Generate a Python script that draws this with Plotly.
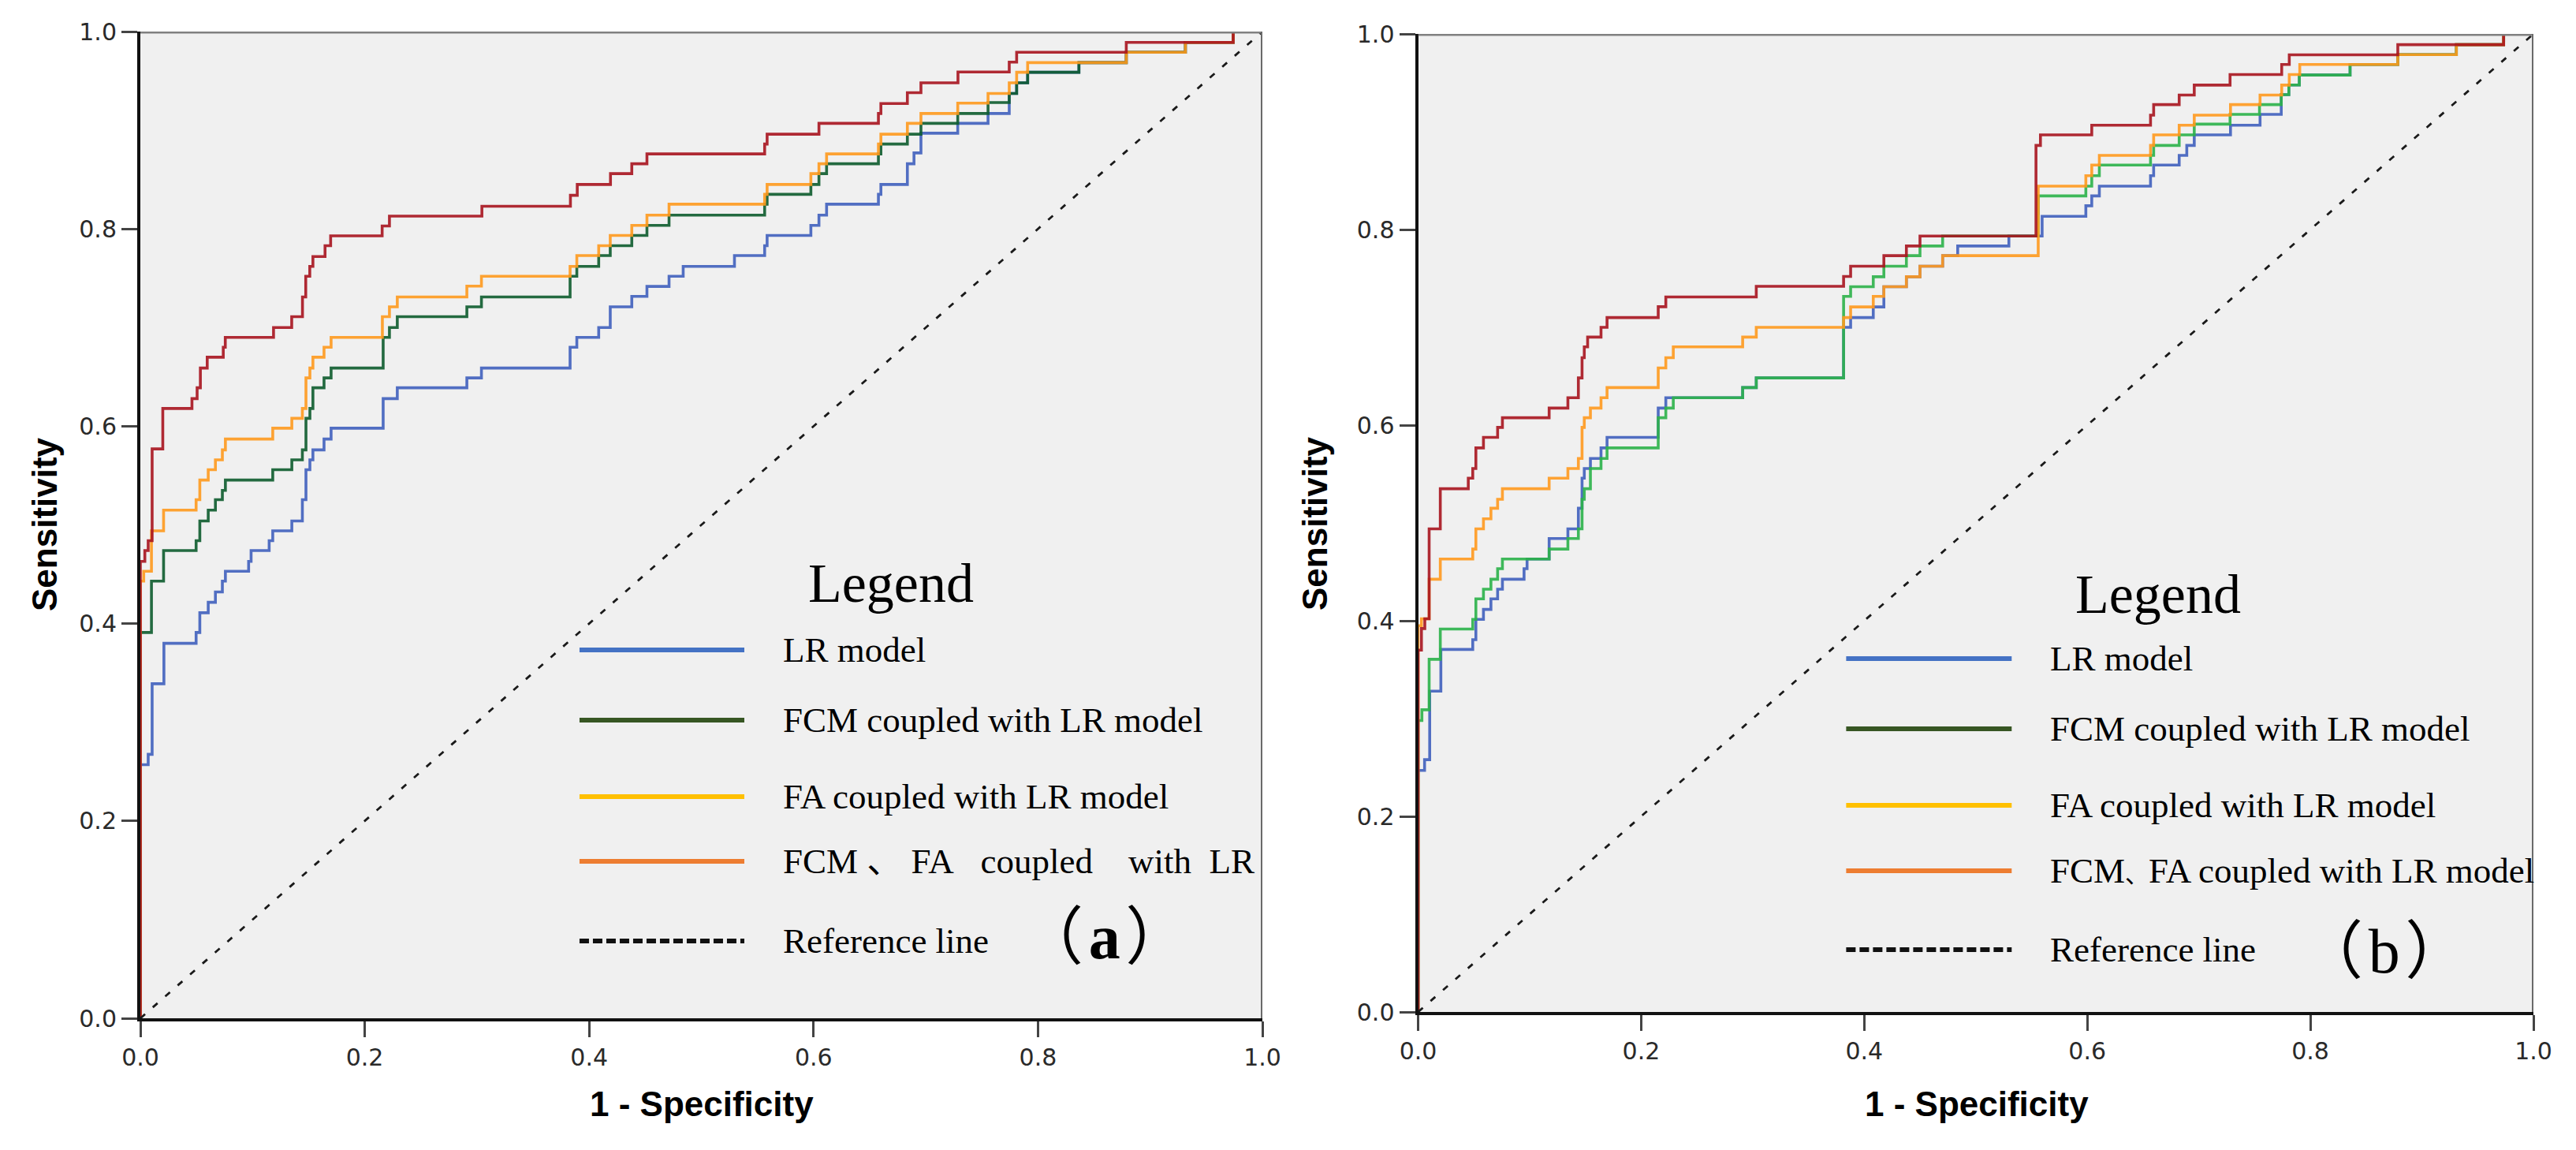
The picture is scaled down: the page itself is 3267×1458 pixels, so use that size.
import plotly.graph_objects as go

# ---------------- data ----------------
# panel (a)
a_lr_fpr = [0, 0, 0.007, 0.0105, 0.021, 0.0497, 0.053, 0.0605, 0.0669, 0.0731, 0.0758, 0.0965, 0.0987, 0.1148, 0.118, 0.135, 0.1444, 0.1476, 0.1511, 0.1538, 0.1637, 0.170, 0.2164, 0.229, 0.291, 0.304, 0.383, 0.389, 0.4085, 0.4188, 0.438, 0.4515, 0.4712, 0.4838, 0.5295, 0.5564, 0.5586, 0.5976, 0.6048, 0.6116, 0.6578, 0.660, 0.6836, 0.6895, 0.6957, 0.7285, 0.7555, 0.7744, 0.781, 0.7908, 0.8365, 0.8787, 0.9314, 0.974, 1.0]
a_lr_tpr = [0, 0.257, 0.2675, 0.339, 0.380, 0.391, 0.411, 0.4216, 0.432, 0.443, 0.453, 0.463, 0.474, 0.484, 0.494, 0.504, 0.5256, 0.556, 0.566, 0.576, 0.587, 0.598, 0.628, 0.639, 0.649, 0.659, 0.680, 0.690, 0.700, 0.721, 0.7316, 0.7417, 0.752, 0.762, 0.773, 0.783, 0.7934, 0.8035, 0.814, 0.825, 0.835, 0.845, 0.866, 0.877, 0.897, 0.907, 0.917, 0.9373, 0.948, 0.9587, 0.9685, 0.979, 0.989, 1.0, 1.0]

a_fcm_fpr = [0, 0, 0.0099, 0.0207, 0.0497, 0.053, 0.0605, 0.0669, 0.0731, 0.0758, 0.118, 0.135, 0.1444, 0.1476, 0.1511, 0.1538, 0.1637, 0.170, 0.2164, 0.222, 0.229, 0.291, 0.304, 0.383, 0.389, 0.4085, 0.4188, 0.438, 0.4515, 0.4712, 0.5564, 0.5586, 0.5976, 0.6048, 0.6116, 0.6578, 0.660, 0.6836, 0.6957, 0.7285, 0.7555, 0.7744, 0.781, 0.7908, 0.8365, 0.8787, 0.9314, 0.974, 1.0]
a_fcm_tpr = [0, 0.391, 0.443, 0.474, 0.484, 0.504, 0.515, 0.5256, 0.535, 0.5455, 0.556, 0.566, 0.576, 0.608, 0.618, 0.639, 0.649, 0.659, 0.690, 0.700, 0.711, 0.721, 0.731, 0.752, 0.762, 0.773, 0.783, 0.7934, 0.8035, 0.814, 0.825, 0.835, 0.845, 0.856, 0.866, 0.876, 0.886, 0.896, 0.907, 0.917, 0.928, 0.9373, 0.948, 0.9587, 0.9685, 0.979, 0.989, 1.0, 1.0]

a_fa_fpr = [0, 0, 0.003, 0.0099, 0.0207, 0.0497, 0.053, 0.0605, 0.0669, 0.0731, 0.0758, 0.118, 0.135, 0.1444, 0.1476, 0.1511, 0.1538, 0.1637, 0.170, 0.2157, 0.222, 0.229, 0.291, 0.304, 0.383, 0.389, 0.4085, 0.4188, 0.438, 0.4515, 0.4712, 0.5564, 0.5586, 0.5976, 0.6048, 0.6116, 0.6578, 0.660, 0.6836, 0.6957, 0.7285, 0.7555, 0.7744, 0.781, 0.7908, 0.8787, 0.9314, 0.974, 1.0]
a_fa_tpr = [0, 0.443, 0.453, 0.494, 0.515, 0.5256, 0.5455, 0.556, 0.566, 0.576, 0.587, 0.598, 0.608, 0.618, 0.649, 0.659, 0.670, 0.680, 0.690, 0.711, 0.721, 0.731, 0.742, 0.752, 0.762, 0.773, 0.783, 0.7934, 0.8035, 0.814, 0.825, 0.835, 0.845, 0.856, 0.866, 0.876, 0.886, 0.896, 0.907, 0.917, 0.9275, 0.9373, 0.948, 0.9587, 0.9685, 0.979, 0.989, 1.0, 1.0]

a_both_fpr = [0, 0, 0.004, 0.007, 0.0105, 0.020, 0.046, 0.0506, 0.0535, 0.0596, 0.0739, 0.0757, 0.1187, 0.1349, 0.1445, 0.1474, 0.151, 0.1538, 0.1646, 0.1696, 0.2155, 0.222, 0.3044, 0.3833, 0.3894, 0.419, 0.438, 0.4515, 0.5564, 0.5586, 0.6048, 0.6578, 0.660, 0.6836, 0.6957, 0.7287, 0.7744, 0.781, 0.8787, 0.974, 1.0]
a_both_tpr = [0, 0.463, 0.474, 0.484, 0.577, 0.618, 0.628, 0.639, 0.659, 0.670, 0.680, 0.690, 0.700, 0.711, 0.731, 0.752, 0.762, 0.772, 0.783, 0.793, 0.803, 0.813, 0.823, 0.834, 0.845, 0.856, 0.866, 0.876, 0.886, 0.896, 0.907, 0.917, 0.927, 0.938, 0.948, 0.959, 0.969, 0.979, 0.989, 1.0, 1.0]

# panel (b)
b_lr_fpr = [0, 0, 0.0058, 0.0104, 0.0204, 0.049, 0.0518, 0.0586, 0.0653, 0.0713, 0.0756, 0.095, 0.0977, 0.1175, 0.1343, 0.1437, 0.147, 0.149, 0.1545, 0.164, 0.1694, 0.2153, 0.2221, 0.291, 0.3032, 0.3815, 0.3878, 0.4081, 0.4176, 0.4378, 0.450, 0.4703, 0.4838, 0.5297, 0.5595, 0.5987, 0.604, 0.6108, 0.6567, 0.6595, 0.6824, 0.6892, 0.6959, 0.7284, 0.7549, 0.7739, 0.7807, 0.7901, 0.8356, 0.8784, 0.9309, 0.9733, 1.0]
b_lr_tpr = [0, 0.247, 0.258, 0.328, 0.3707, 0.3807, 0.4014, 0.4116, 0.4224, 0.4323, 0.4424, 0.4532, 0.4631, 0.4841, 0.494, 0.515, 0.5458, 0.5557, 0.5659, 0.5767, 0.5875, 0.6174, 0.628, 0.6384, 0.6483, 0.700, 0.710, 0.7209, 0.7415, 0.7517, 0.7625, 0.7733, 0.7832, 0.7934, 0.8135, 0.8243, 0.8344, 0.8444, 0.8551, 0.8659, 0.8758, 0.886, 0.8968, 0.9067, 0.9177, 0.9379, 0.9478, 0.958, 0.9688, 0.9788, 0.989, 1.0, 1.0]

b_fcm_fpr = [0, 0, 0.0034, 0.0099, 0.0199, 0.049, 0.0518, 0.0586, 0.0653, 0.0713, 0.0756, 0.1175, 0.1343, 0.1437, 0.147, 0.149, 0.1545, 0.164, 0.1694, 0.2153, 0.2221, 0.2288, 0.291, 0.3032, 0.3815, 0.3878, 0.4081, 0.4176, 0.4378, 0.450, 0.4703, 0.556, 0.5987, 0.604, 0.6108, 0.6567, 0.6595, 0.6824, 0.6959, 0.728, 0.7544, 0.7739, 0.7807, 0.7901, 0.8356, 0.8784, 0.9309, 0.9733, 1.0]
b_fcm_tpr = [0, 0.298, 0.309, 0.3606, 0.3915, 0.4014, 0.4224, 0.4323, 0.4424, 0.4532, 0.4631, 0.4733, 0.4841, 0.494, 0.5242, 0.535, 0.5557, 0.5659, 0.5767, 0.6076, 0.6174, 0.628, 0.6384, 0.6483, 0.7317, 0.7415, 0.7517, 0.7625, 0.7733, 0.7832, 0.7934, 0.8344, 0.8444, 0.8551, 0.8659, 0.8758, 0.886, 0.8968, 0.9078, 0.9177, 0.9277, 0.9379, 0.9478, 0.958, 0.9688, 0.9788, 0.989, 1.0, 1.0]

b_fa_fpr = [0, 0, 0.003, 0.0099, 0.0199, 0.049, 0.0518, 0.0586, 0.0653, 0.0713, 0.0756, 0.1175, 0.1343, 0.1437, 0.147, 0.149, 0.1545, 0.164, 0.1694, 0.2153, 0.2221, 0.2288, 0.291, 0.3032, 0.3815, 0.3878, 0.4081, 0.4176, 0.4378, 0.450, 0.4703, 0.556, 0.5987, 0.604, 0.6108, 0.6567, 0.6595, 0.6824, 0.6959, 0.7284, 0.7549, 0.7743, 0.7811, 0.7905, 0.8784, 0.9309, 0.9733, 1.0]
b_fa_tpr = [0, 0.395, 0.402, 0.4424, 0.4631, 0.4733, 0.494, 0.5042, 0.515, 0.5242, 0.535, 0.5458, 0.5557, 0.5659, 0.5977, 0.6076, 0.6174, 0.628, 0.6384, 0.6585, 0.669, 0.680, 0.690, 0.700, 0.710, 0.7209, 0.7317, 0.7415, 0.7517, 0.7625, 0.7733, 0.8444, 0.8551, 0.8659, 0.8758, 0.886, 0.8968, 0.9067, 0.9169, 0.9277, 0.9375, 0.9477, 0.9585, 0.9687, 0.9788, 0.989, 1.0, 1.0]

b_both_fpr = [0, 0, 0.003, 0.006, 0.0099, 0.0199, 0.045, 0.049, 0.0518, 0.0586, 0.0713, 0.0756, 0.1175, 0.1343, 0.1437, 0.147, 0.149, 0.152, 0.164, 0.1694, 0.2153, 0.2221, 0.3032, 0.3815, 0.3878, 0.4176, 0.4378, 0.450, 0.554, 0.558, 0.604, 0.6567, 0.6595, 0.6824, 0.6959, 0.728, 0.7743, 0.7811, 0.8784, 0.9733, 1.0]
b_both_tpr = [0, 0.37, 0.392, 0.402, 0.494, 0.535, 0.5458, 0.5557, 0.5767, 0.5875, 0.5977, 0.6076, 0.6174, 0.628, 0.6483, 0.669, 0.680, 0.690, 0.700, 0.710, 0.7211, 0.731, 0.7419, 0.752, 0.7625, 0.7733, 0.7832, 0.7934, 0.886, 0.8968, 0.9067, 0.9169, 0.9277, 0.9375, 0.9477, 0.9585, 0.9687, 0.9786, 0.989, 1.0, 1.0]

ref_x = [0, 1]
ref_y = [0, 1]

tick_vals = [0.0, 0.2, 0.4, 0.6, 0.8, 1.0]
tick_text = ["0.0", "0.2", "0.4", "0.6", "0.8", "1.0"]

NB = "\u00a0"
legend_labels_a = ["LR model", "FCM coupled with LR model", "FA coupled with LR model",
                   "FCM" + NB + "、" + NB + "FA" + NB * 3 + "coupled" + NB * 4 + "with" + NB * 2 + "LR",
                   "Reference line"]
legend_labels_b = ["LR model", "FCM coupled with LR model", "FA coupled with LR model",
                   "FCM<span style='font-size:30px'>、</span>FA coupled with LR model", "Reference line"]
legend_colors = ["#4472C4", "#375623", "#FFC000", "#ED7D31", "#111111"]

# ---------------- styles ----------------
W, H = 3267, 1458
OFF = 8  # page body margin of the browser page
curve_colors_a = {"lr": "#4060BE", "fcm": "#0D5C2D", "fa": "#FF9A1E", "both": "#A8141F"}
curve_colors_b = {"lr": "#4060BE", "fcm": "#2DB34A", "fa": "#FF9A1E", "both": "#A8141F"}


def px(X):
    return (X - OFF) / W


def py(Y):
    return 1 - (Y - OFF) / H


fig = go.Figure()


def add_curves(xa, ya, data, colors):
    for key in ["lr", "fcm", "fa", "both"]:
        fx, ty = data[key]
        fig.add_trace(go.Scatter(x=fx, y=ty, mode="lines", line_shape="hv",
                                 line=dict(color=colors[key], width=3.6),
                                 opacity=0.9, xaxis=xa, yaxis=ya,
                                 showlegend=False, hoverinfo="skip"))
    fig.add_trace(go.Scatter(x=ref_x, y=ref_y, mode="lines",
                             line=dict(color="#1a1a1a", width=2.8, dash="8px,13px"),
                             xaxis=xa, yaxis=ya, showlegend=False, hoverinfo="skip"))


add_curves("x", "y", {"lr": (a_lr_fpr, a_lr_tpr), "fcm": (a_fcm_fpr, a_fcm_tpr),
                      "fa": (a_fa_fpr, a_fa_tpr), "both": (a_both_fpr, a_both_tpr)}, curve_colors_a)
add_curves("x2", "y2", {"lr": (b_lr_fpr, b_lr_tpr), "fcm": (b_fcm_fpr, b_fcm_tpr),
                        "fa": (b_fa_fpr, b_fa_tpr), "both": (b_both_fpr, b_both_tpr)}, curve_colors_b)

tickfont = dict(family="DejaVu Sans", size=30, color="#2a2a2a")
axis_common = dict(range=[0, 1], tickmode="array", tickvals=tick_vals, ticktext=tick_text,
                   showgrid=False, zeroline=False, showline=True, linecolor="#111111",
                   linewidth=4, ticks="outside", ticklen=20, tickwidth=3, tickcolor="#444444",
                   tickfont=tickfont, fixedrange=True, automargin=False)

fig.update_layout(
    width=W, height=H, autosize=False,
    margin=dict(l=0, r=0, t=0, b=0, pad=0, autoexpand=False),
    paper_bgcolor="white", plot_bgcolor="#F0F0F0",
    xaxis=dict(domain=[px(178), px(1601)], anchor="y", **axis_common),
    yaxis=dict(domain=[py(1291), py(40)], anchor="x", **axis_common),
    xaxis2=dict(domain=[px(1798.5), px(3213)], anchor="y2", **axis_common),
    yaxis2=dict(domain=[py(1283), py(43)], anchor="x2", **axis_common),
    showlegend=False,
)

shapes = []
annotations = []

# top / right frame lines (grey)
for xr, yr in [("x", "y"), ("x2", "y2")]:
    shapes.append(dict(type="line", xref=xr, yref=yr, x0=0, x1=1, y0=1, y1=1,
                       line=dict(color="#808080", width=5), layer="above"))
    shapes.append(dict(type="line", xref=xr, yref=yr, x0=1, x1=1, y0=0, y1=1,
                       line=dict(color="#6a6a6a", width=4), layer="above"))

serif = "Liberation Serif, Noto Sans CJK SC, serif"


def add_legend(xr, yr, x0, x1, rows, text_x, labels, legend_xy, tag_xy, tag_text):
    for i, (yy, lab, col) in enumerate(zip(rows, labels, legend_colors)):
        dash = "12px,5px" if i == 4 else "solid"
        shapes.append(dict(type="line", xref=xr, yref=yr, x0=x0, x1=x1, y0=yy, y1=yy,
                           line=dict(color=col, width=6, dash=dash), layer="above"))
        annotations.append(dict(xref=xr, yref=yr, x=text_x, y=yy, text=lab, showarrow=False,
                                xanchor="left", yanchor="middle",
                                font=dict(family=serif, size=45, color="black")))
    annotations.append(dict(xref=xr, yref=yr, x=legend_xy[0], y=legend_xy[1], text="Legend",
                            showarrow=False, xanchor="center", yanchor="middle",
                            font=dict(family=serif, size=70, color="black")))
    annotations.append(dict(xref=xr, yref=yr, x=tag_xy[0], y=tag_xy[1], text=tag_text,
                            showarrow=False, xanchor="center", yanchor="middle",
                            font=dict(family=serif, size=80, color="black")))


add_legend("x", "y", 0.3914, 0.5383, [0.3733, 0.3022, 0.2246, 0.1591, 0.0783], 0.5713,
           legend_labels_a, (0.669, 0.4405), (0.8588, 0.0823), "（\u200a<b>a</b>\u200a）")
add_legend("x2", "y2", 0.3838, 0.5322, [0.3613, 0.2895, 0.2113, 0.1444, 0.0637], 0.5653,
           legend_labels_b, (0.6635, 0.4274), (0.8662, 0.0621), "（\u200ab\u200a）")

# axis titles
title_font = dict(family="Liberation Sans, Arial, sans-serif", size=44, color="black")
for xc in [890, 2507]:
    annotations.append(dict(xref="paper", yref="paper", x=px(xc), y=py(1399.5),
                            text="<b>1 - Specificity</b>", showarrow=False,
                            xanchor="center", yanchor="middle", font=title_font))
for xc, yc in [(56, 665), (1667, 663)]:
    annotations.append(dict(xref="paper", yref="paper", x=px(xc), y=py(yc),
                            text="<b>Sensitivity</b>", showarrow=False, textangle=-90,
                            xanchor="center", yanchor="middle", font=title_font))

fig.update_layout(shapes=shapes, annotations=annotations)
fig.write_html("out.html")
